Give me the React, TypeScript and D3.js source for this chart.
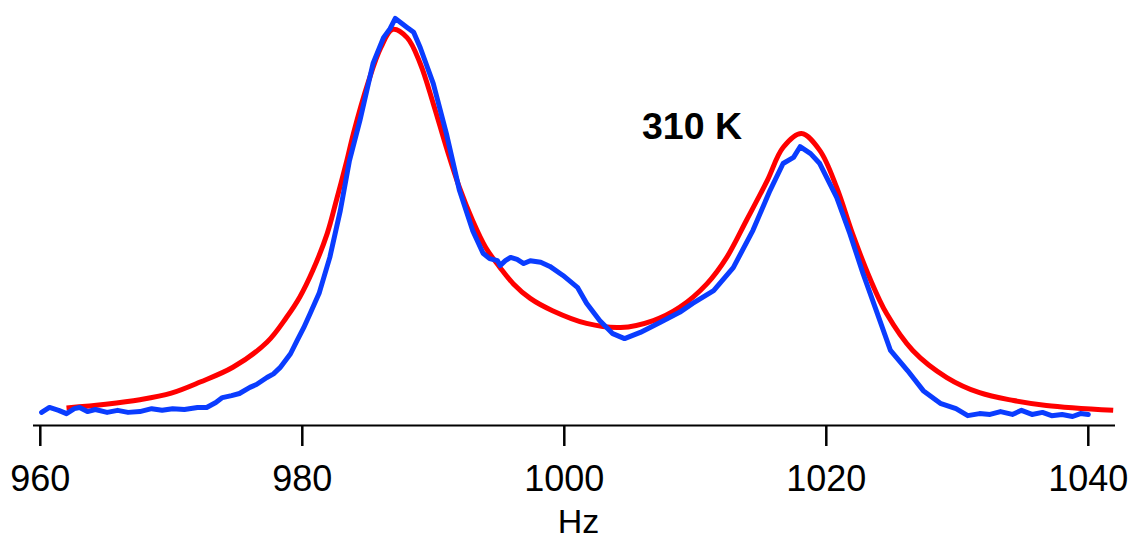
import React from "react";
import * as d3 from "d3";

// Frequency axis (Hz) and intensity (arbitrary units)
const xTicks = [960, 980, 1000, 1020, 1040];
const xLabel = "Hz";
const annotation = "310 K";

// Fitted curve (red)
const fitHz = [962.0, 965.0, 967.6, 970.0, 972.2, 974.7, 977.3, 978.8, 979.8, 980.8, 981.9, 982.6, 983.4, 983.9, 985.0, 986.0, 986.9, 988.0, 989.0, 990.0, 991.0, 992.0, 993.0, 994.0, 995.1, 996.1, 997.4, 999.1, 1001.7, 1004.3, 1006.8, 1008.8, 1010.9, 1012.4, 1013.9, 1015.5, 1016.7, 1018.1, 1019.5, 1020.8, 1022.0, 1023.3, 1024.6, 1026.6, 1029.2, 1031.7, 1034.3, 1036.8, 1041.9];
const fitI = [4.3, 5.2, 6.3, 7.9, 10.6, 14.2, 20.3, 26.4, 31.3, 37.8, 46.8, 54.9, 64.6, 71.2, 83.4, 92.2, 96.6, 94.6, 88.3, 78.5, 67.8, 58.0, 50.0, 43.4, 38.5, 34.6, 31.0, 28.0, 24.9, 23.9, 25.6, 28.8, 34.6, 41.0, 50.0, 59.8, 67.8, 71.2, 67.1, 58.0, 46.8, 36.1, 27.3, 18.3, 11.7, 8.0, 6.1, 4.9, 3.7];

// Measured spectrum (blue)
const specHz = [960.1, 960.7, 961.4, 962.0, 962.6, 963.0, 963.6, 964.2, 965.1, 965.9, 966.7, 967.6, 968.5, 969.3, 970.1, 971.0, 972.0, 972.7, 973.4, 973.9, 974.6, 975.2, 976.0, 976.5, 977.3, 977.8, 978.3, 979.1, 979.6, 980.1, 980.6, 981.3, 982.1, 982.9, 983.6, 984.4, 985.4, 986.2, 986.7, 987.1, 987.5, 988.0, 988.5, 989.0, 990.0, 991.0, 992.0, 993.0, 993.8, 994.3, 994.9, 995.1, 995.5, 995.9, 996.4, 996.9, 997.4, 998.2, 998.9, 999.9, 1001.0, 1001.7, 1002.7, 1003.7, 1004.6, 1005.8, 1007.3, 1008.8, 1009.8, 1011.4, 1012.9, 1014.4, 1015.7, 1016.7, 1017.5, 1018.0, 1018.8, 1019.5, 1020.8, 1021.8, 1022.8, 1023.9, 1024.9, 1026.2, 1027.4, 1028.7, 1029.9, 1030.8, 1031.7, 1032.5, 1033.3, 1034.2, 1034.9, 1035.7, 1036.5, 1037.2, 1038.0, 1038.8, 1039.4, 1040.0];
const specI = [3.2, 4.4, 3.7, 2.9, 4.1, 4.4, 3.4, 3.9, 3.2, 3.7, 3.2, 3.4, 4.1, 3.7, 4.1, 3.9, 4.4, 4.4, 5.6, 6.8, 7.3, 7.8, 9.3, 10.0, 11.7, 12.6, 14.1, 17.5, 20.7, 23.8, 27.3, 32.4, 41.0, 52.4, 64.6, 74.4, 88.3, 94.6, 96.8, 99.3, 98.3, 97.1, 95.9, 92.2, 83.4, 71.2, 57.3, 47.6, 42.0, 40.7, 40.2, 39.0, 40.2, 41.0, 40.5, 39.5, 40.2, 39.8, 38.8, 36.6, 33.7, 29.8, 25.6, 22.4, 21.2, 22.7, 25.1, 27.6, 29.8, 32.9, 38.5, 47.6, 57.3, 63.9, 65.4, 68.0, 66.3, 63.9, 55.6, 46.8, 37.1, 27.3, 18.3, 13.4, 8.5, 5.4, 4.1, 2.4, 2.9, 2.7, 3.4, 2.7, 3.7, 2.7, 3.2, 2.4, 2.7, 2.2, 2.9, 2.7];

const W = 1135;
const H = 540;
const axisY = 425.5;

export default function App() {
  const x = d3.scaleLinear().domain([960, 1040]).range([40.3, 1088.3]);
  const y = d3.scaleLinear().domain([0, 100]).range([axisY, axisY - 410]);
  const xMin = x.invert(33);
  const xMax = x.invert(1115);

  const fitLine = d3
    .line<number>()
    .x((_, i) => x(fitHz[i]))
    .y((d) => y(d))
    .curve(d3.curveCatmullRom.alpha(0.5));
  const specLine = d3
    .line<number>()
    .x((_, i) => x(specHz[i]))
    .y((d) => y(d))
    .curve(d3.curveLinear);

  const font = "'Liberation Sans', Arial, sans-serif";

  return (
    <svg
      width={W}
      height={H}
      style={{ position: "absolute", left: 0, top: 0, background: "#fff" }}
      fontFamily={font}
    >
      <path d={fitLine(fitI) || ""} fill="none" stroke="#ff0000" strokeWidth={5} strokeLinejoin="round" />
      <path d={specLine(specI) || ""} fill="none" stroke="#0a3cff" strokeWidth={5} strokeLinejoin="round" strokeLinecap="round" />
      <line x1={x(xMin)} x2={x(xMax)} y1={axisY} y2={axisY} stroke="#000" strokeWidth={2} />
      {xTicks.map((t) => (
        <g key={t}>
          <line x1={x(t)} x2={x(t)} y1={axisY} y2={446} stroke="#000" strokeWidth={2.5} />
          <text x={x(t)} y={490.5} textAnchor="middle" fontSize={36} fill="#000">
            {t}
          </text>
        </g>
      ))}
      <text x={578.5} y={533} textAnchor="middle" fontSize={34} fill="#000">
        {xLabel}
      </text>
      <text x={642} y={139} fontSize={37.5} fontWeight="bold" fill="#000">
        {annotation}
      </text>
    </svg>
  );
}
